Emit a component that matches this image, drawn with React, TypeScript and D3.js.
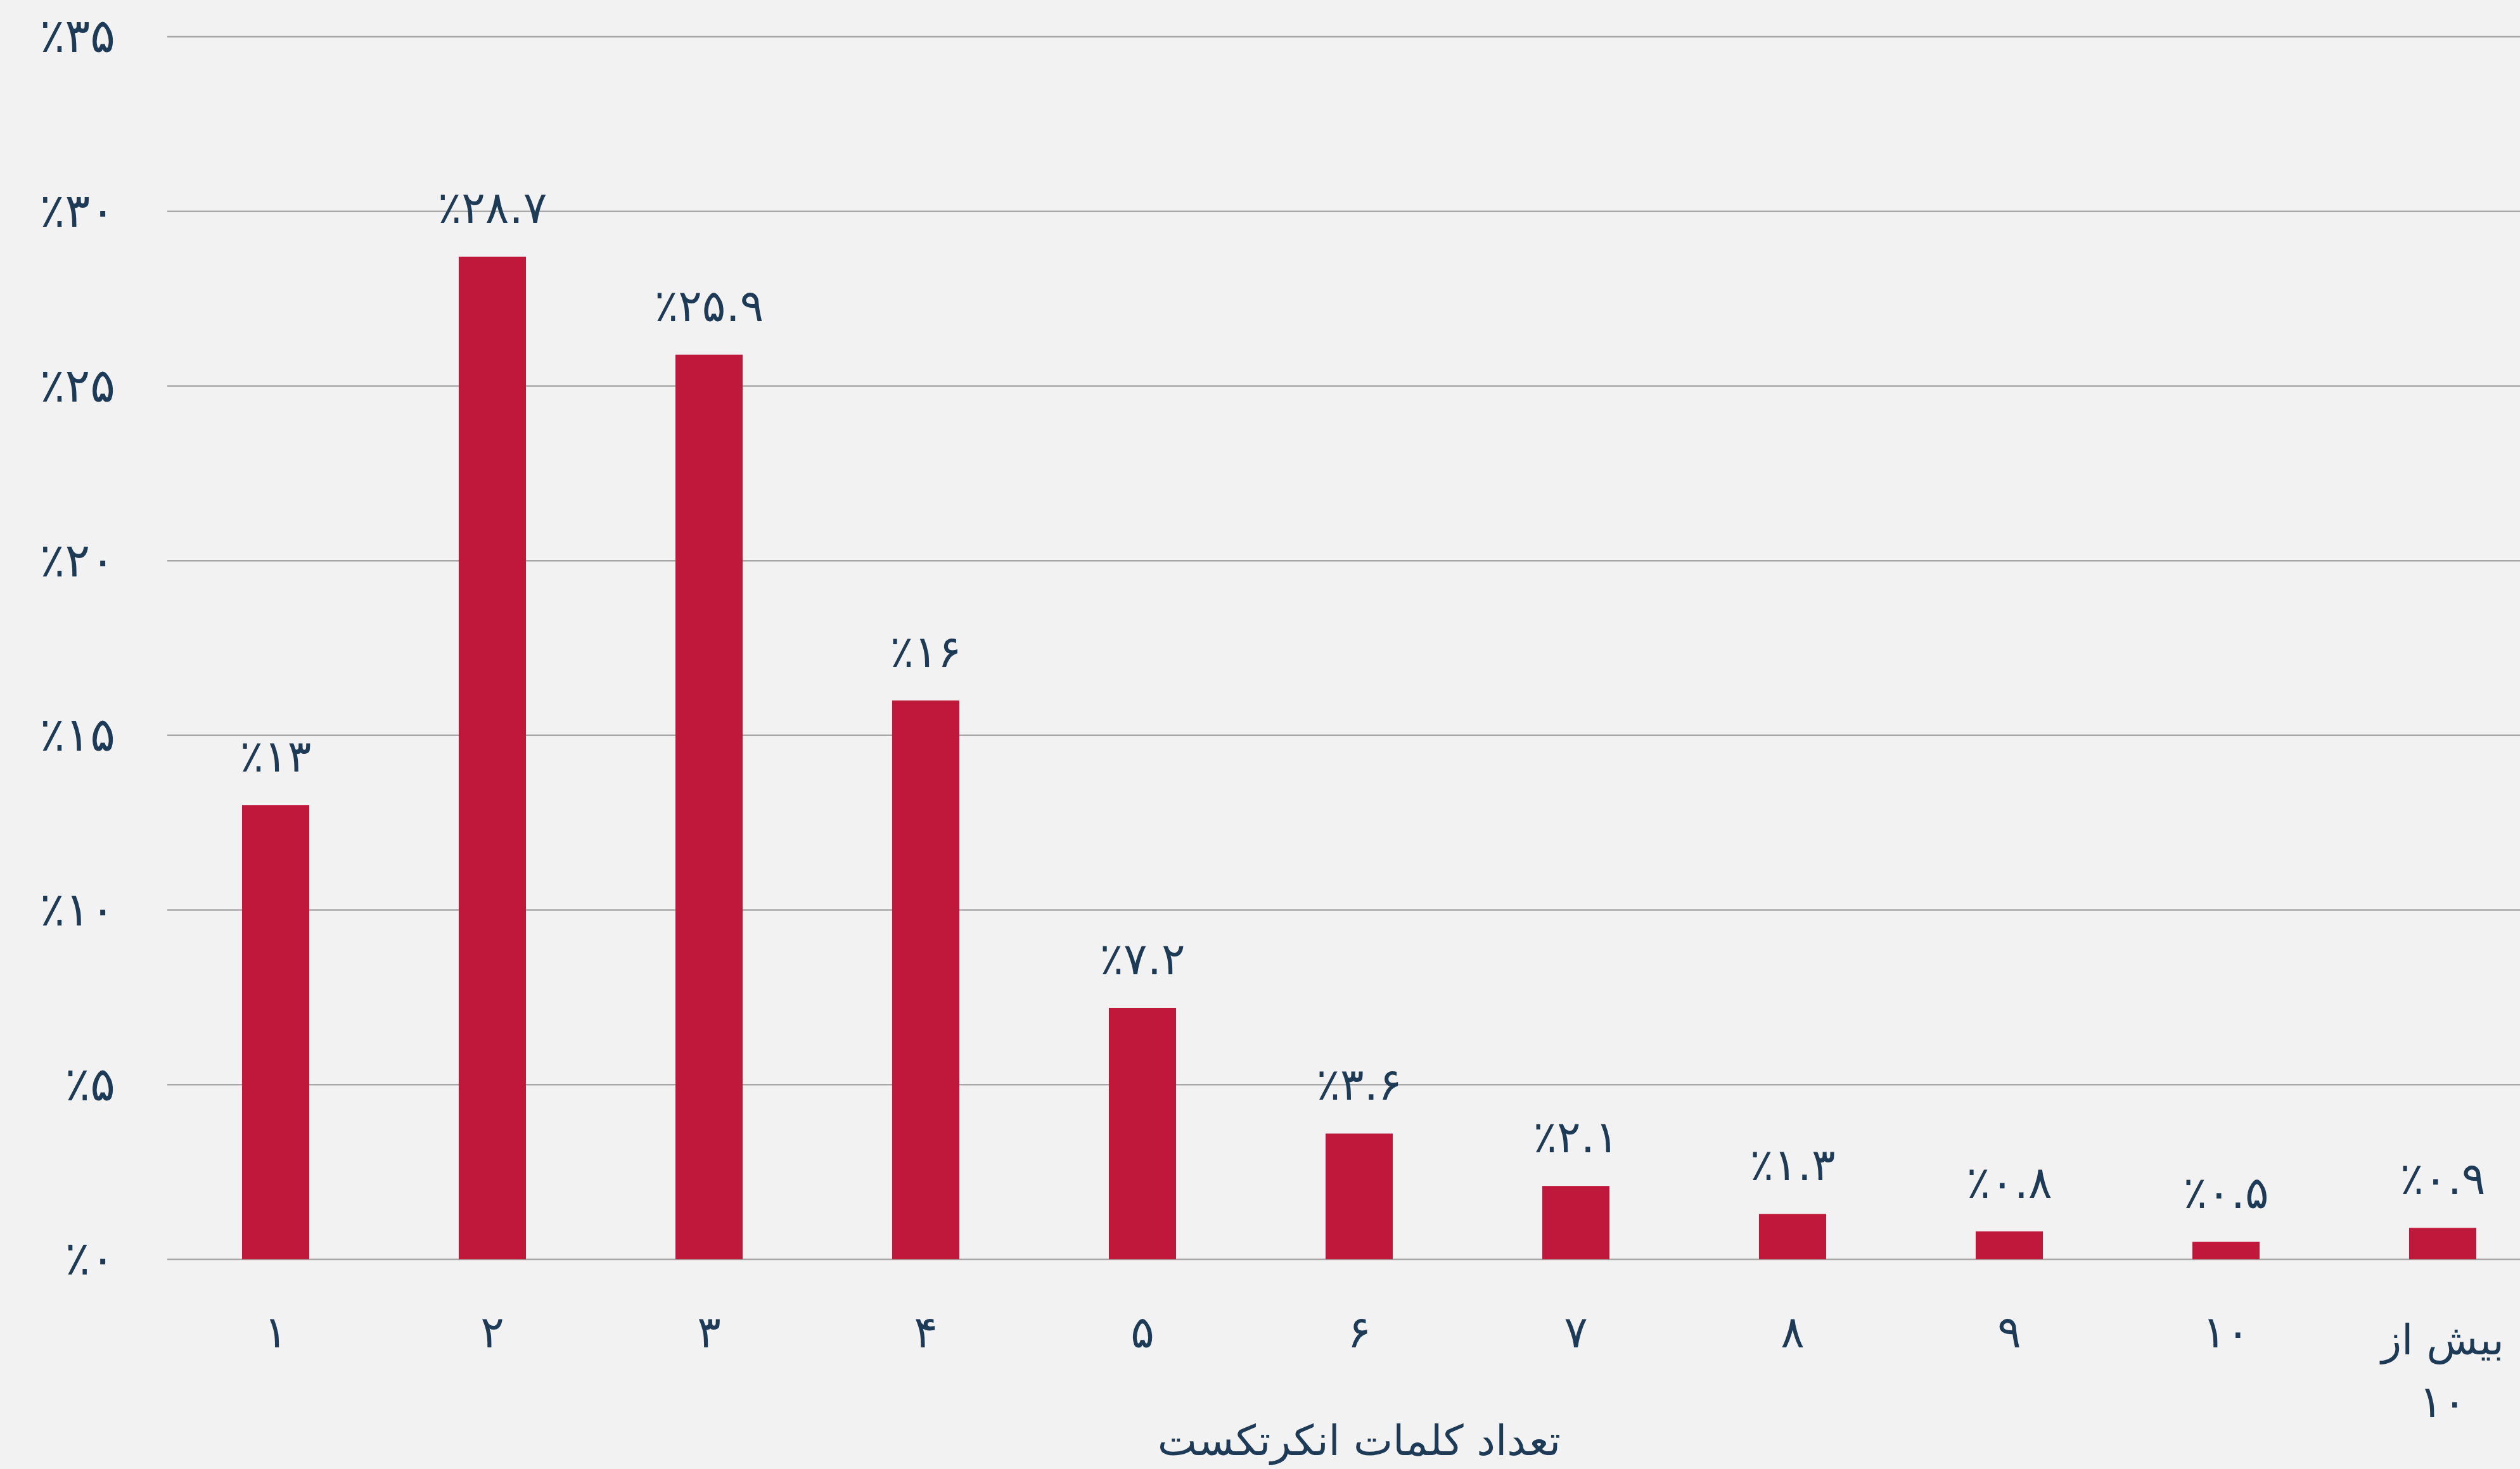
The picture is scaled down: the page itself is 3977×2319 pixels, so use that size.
import React from "react";
import * as d3 from "d3";

const categories: string[] = ["1", "2", "3", "4", "5", "6", "7", "8", "9", "10", "بیش از 10"];
const values: number[] = [13, 28.7, 25.9, 16, 7.2, 3.6, 2.1, 1.3, 0.8, 0.5, 0.9];
const yTicks: number[] = [0, 5, 10, 15, 20, 25, 30, 35];
const xTitle = "تعداد کلمات انکرتکست";

const W = 3977;
const H = 2319;
const FONT = "'DejaVu Sans', 'Noto Sans', sans-serif";
const TEXT = "#1d3a56";
const BAR = "#c0183a";
const GRID = "#a8a8a8";
const BG = "#f2f2f2";

const faDigits = "۰۱۲۳۴۵۶۷۸۹";
const toFa = (s: string) => s.replace(/[0-9]/g, (d) => faDigits[+d]);
const pct = (v: number) => "٪" + toFa(String(v));

export default function App() {
  const x = d3
    .scaleBand<string>()
    .domain(categories)
    .range([264, 4026])
    .paddingInner(0.69)
    .paddingOuter(0.345);
  const y = d3.scaleLinear().domain([0, 35]).range([1988, 58]);
  const fs = 70;

  return (
    <svg
      width={W}
      height={H}
      style={{ position: "absolute", left: 0, top: 0, display: "block" }}
      fontFamily={FONT}
    >
      <rect x={0} y={0} width={W} height={H} fill={BG} />
      {yTicks.map((t) => (
        <g key={"g" + t}>
          <line x1={264} x2={W} y1={y(t)} y2={y(t)} stroke={GRID} strokeWidth={2.5} />
          <text
            x={182}
            y={y(t)}
            dy="0.33em"
            textAnchor="end"
            fontSize={74}
            fill={TEXT}
            direction="ltr"
          >
            {pct(t)}
          </text>
        </g>
      ))}
      {categories.map((c, i) => {
        const bx = x(c)!;
        const bw = x.bandwidth();
        const cx = bx + bw / 2;
        const lines = c.includes(" ")
          ? [c.slice(0, c.lastIndexOf(" ")), c.slice(c.lastIndexOf(" ") + 1)]
          : [c];
        return (
          <g key={"b" + i}>
            <rect x={bx} y={y(values[i])} width={bw} height={y(0) - y(values[i])} fill={BAR} />
            <text
              x={cx}
              y={y(values[i]) - 53}
              textAnchor="middle"
              fontSize={fs}
              fill={TEXT}
              direction="ltr"
            >
              {pct(values[i])}
            </text>
            {lines.map((ln, k) => (
              <text
                key={k}
                x={cx}
                y={(lines.length > 1 ? 2138 : 2127) + k * 99}
                textAnchor="middle"
                fontSize={lines.length > 1 && k === 0 ? 66 : fs}
                fill={TEXT}
              >
                {toFa(ln)}
              </text>
            ))}
          </g>
        );
      })}
      <text
        x={(264 + 4026) / 2}
        y={2297}
        textAnchor="middle"
        fontSize={66}
        fill={TEXT}
        direction="rtl"
      >
        {xTitle}
      </text>
    </svg>
  );
}
